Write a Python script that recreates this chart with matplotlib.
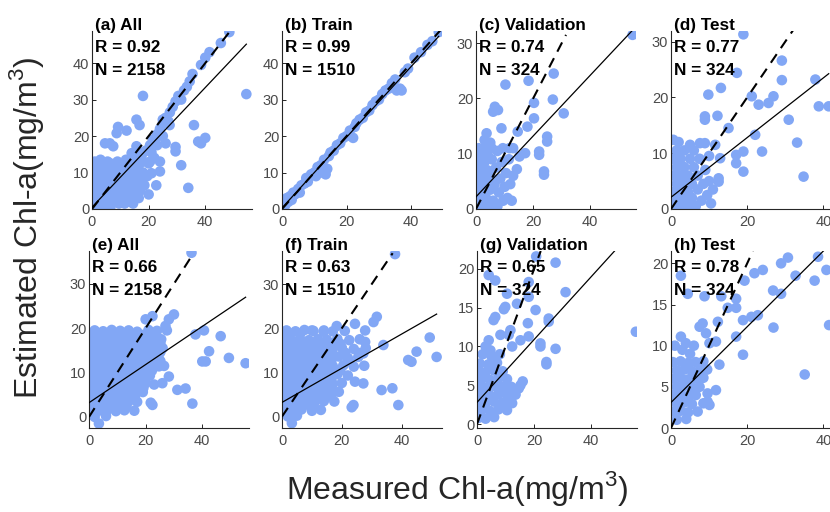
import matplotlib
matplotlib.use("Agg")
import matplotlib.pyplot as plt
import numpy as np

plt.rcParams["font.family"] = ["Liberation Sans", "DejaVu Sans"]
plt.rcParams["mathtext.fontset"] = "custom"
plt.rcParams["mathtext.rm"] = "Liberation Sans"

# ---- data: (measured, estimated) Chl-a pairs per panel ----
pts_a = [(0.5, 0.5), (0.5, 3), (0.5, 6), (0.5, 9), (0.5, 12), (1.5, 1.5), (1.5, 4.5), (1.5, 7.5), (1.5, 10.5),
         (2.5, 0.5), (2.5, 3), (2.5, 6), (2.5, 9), (2.5, 12.5), (3.5, 2), (3.5, 5), (3.5, 8), (3.5, 11),
         (4.5, 0.5), (4.5, 3.5), (4.5, 6.5), (4.5, 9.5), (4.5, 12), (5.5, 2), (5.5, 5), (5.5, 8), (5.5, 11),
         (6.5, 0.5), (6.5, 3.5), (6.5, 6.5), (6.5, 9.5), (6.5, 12.5), (7.5, 2), (7.5, 5), (7.5, 8), (7.5, 11),
         (8.5, 3.5), (8.5, 6.5), (8.5, 9.5), (8.5, 12), (9.5, 1.5), (9.5, 5), (9.5, 8), (9.5, 11),
         (10.5, 3), (10.5, 6.5), (10.5, 10), (11.5, 1.5), (11.5, 5), (11.5, 8.5), (11.5, 12),
         (12.5, 3.5), (12.5, 7), (12.5, 10.5), (13.5, 2), (13.5, 5.5), (13.5, 9), (13.5, 12.5),
         (14.5, 1.5), (14.5, 7.5), (14.5, 11), (15.5, 4), (15.5, 10), (15.5, 13.5), (16.5, 3), (16.5, 8),
         (16.5, 12), (17, 5), (17.5, 14.5), (18, 10), (18.5, 6.5), (19, 16), (20, 12.5), (20.5, 17.5),
         (21.5, 19), (22, 14), (23, 20.5), (24, 22), (25, 23.5), (26, 25), (27, 24), (27.5, 26.5),
         (28.5, 28), (29.5, 29.5), (30.5, 31), (31.5, 30), (32.5, 32.5), (33.5, 33.5), (34.5, 35),
         (35.5, 37), (38.5, 39.5), (40, 41.5), (41.5, 43), (45.5, 45.5), (48.5, 48.5),
         (18, 31), (54.5, 31.5), (36, 23), (37.5, 18.5), (40, 19.5), (38.5, 18), (29.5, 17), (29.5, 15.8),
         (31.5, 12), (34, 5.8), (25, 20), (26, 18), (24, 13), (24, 10.3), (20.5, 13), (21, 9.8),
         (22.7, 6.5), (15.7, 24.5), (16.8, 23), (9.2, 22.5), (8.7, 20.8), (12.2, 21.5), (4.6, 18),
         (6.3, 18), (7.5, 17.2), (15.7, 17.2), (16.8, 15.3), (14, 15.3), (20.5, 17), (22.7, 19.5),
         (27.4, 23), (25, 24.5),
         (1, 13), (3, 13.5), (5.5, 13), (2, 4.5), (4, 10.5), (7, 10), (9, 13), (10, 2.5), (12, 13.5),
         (14, 10), (16, 6), (18, 13), (19.5, 9), (21, 15.5), (23, 17.5), (20, 4)]

pts_b = [(0.3, 0.5), (0.5, 2), (1, 1), (1.5, 3), (2, 2), (2.5, 3.5), (3, 2.5), (3.5, 4.5), (4, 4),
         (5, 5.5), (5.5, 4.5), (6, 6.5), (7, 7), (7.5, 8.5), (8, 7.5), (9, 9.5), (10, 10), (10.5, 9),
         (11, 11.5), (12, 12), (12.5, 10), (13, 13.5), (13.5, 9.5), (14, 11), (14.5, 14.5), (15, 15.5),
         (16, 16), (17, 17.5), (18, 18), (19, 19.5), (20, 20), (21, 21.5), (22, 19.5), (22.5, 22.5),
         (23, 23.5), (24, 24.5), (25, 25), (26, 26.5), (27, 27), (28, 28.5), (29, 29.5), (30, 30),
         (31, 31.5), (32, 32.5), (33, 33), (34, 34.5), (35, 35.5), (35.5, 32.5), (36.5, 33), (37, 32.5),
         (38, 37.5), (39, 38.5), (41, 41.5), (43, 43), (45, 45), (46.5, 46), (48.5, 48.5)]

pts_c = [(54.8, 31.5), (27.2, 24.5), (18.4, 23.2), (10.3, 22.5), (20.3, 19.2), (26.9, 19.8), (30.7, 17.3),
         (20.3, 16.4), (6.6, 18.5), (7.7, 17.9), (6, 17.6), (18, 14.9), (14.6, 14), (8.9, 14.6),
         (3.7, 13.7), (24.9, 13.1), (24.9, 12.2), (22.1, 10.4), (22.1, 9.8), (17.2, 10.1), (11.7, 11),
         (9.4, 11), (15.2, 9.5), (23.8, 6.8), (23.8, 6.2), (14.3, 7.2),
         (0.5, 0.5), (0.5, 3), (0.5, 6), (0.5, 9), (1, 11), (1.5, 1.5), (1.5, 4.5), (1.5, 7.5), (2, 10),
         (2.5, 0.5), (2.5, 3), (2.5, 6), (3, 8.5), (3, 11), (3.5, 2), (3.5, 4.5), (4, 7), (4, 10),
         (4.5, 0.5), (5, 3.5), (5, 6), (5.5, 9), (5.5, 11), (6, 1.5), (6.5, 4.5), (7, 7.5), (7.5, 10.5),
         (7.5, 0.5), (8, 3), (8.5, 5.5), (9, 8.5), (9.5, 1.5), (10, 4), (10.5, 6.5), (11, 2), (11.5, 9),
         (12, 4.5), (12.5, 1.5), (13, 11), (13, 6), (3, 12.5), (5, 12)]

pts_d = [(19, 31.3), (17.3, 24.4), (29.1, 26.6), (29.1, 23.1), (13.1, 21.7), (9.8, 20.5), (21.2, 20.2),
         (23, 18.7), (25.6, 19), (26.9, 20.2), (8.9, 16.6), (8.9, 16), (12.2, 16.7), (15.1, 14.5),
         (30.9, 16), (22.1, 13.3), (37.9, 23.2), (38.8, 18.4), (41.4, 18.4), (33.1, 11.9), (34.8, 5.8),
         (23.9, 10.3), (19, 10.3), (19, 6.7), (17.1, 9.7), (17.1, 8.2), (11.6, 11.5), (12.9, 9.1),
         (12.5, 5.5), (12.5, 4.9), (0.6, 12.4), (7.6, 11.8), (8.9, 11.8),
         (0.5, 0.5), (0.5, 3), (0.5, 6), (0.5, 9), (1.5, 1.5), (1.5, 4.5), (1.5, 7.5), (1.5, 10.5),
         (2.5, 0.5), (2.5, 3), (2.5, 6), (2.5, 9), (3.5, 2), (3.5, 4.5), (3.5, 7.5), (3.5, 10.5),
         (4.5, 0.5), (4.5, 3), (4.5, 6), (5, 9), (5.5, 2), (5.5, 4.5), (6, 7.5), (6, 10.5), (6.5, 0.5),
         (7, 3.5), (7, 6), (7.5, 9), (8, 1.5), (8.5, 4.5), (9, 7), (9.5, 2.5), (10, 5), (10, 9.5),
         (10.5, 1), (11, 3.5), (5, 11.5), (2, 12)]

pts_e = [(36.2, 37), (55.3, 12.1), (49.4, 13.3), (46.5, 18.2), (42.4, 14.8), (40, 12.5), (41.2, 12.5),
         (40.6, 19.5), (37.6, 18.6), (34.1, 6.4), (31.2, 6.1), (36.5, 3), (30, 23.1), (28.2, 22),
         (27, 20.5), (24.7, 17.4), (20, 22), (22.4, 22.7), (25.9, 7.6), (22.4, 2.7), (21.8, 3.2),
         (3.5, -1.5), (28.2, 9.1), (24.7, 11.4),
         (2, 19.5), (5, 19.3), (8, 19.6), (11, 19.4), (14, 19.5), (17, 19.2), (21, 19.6), (24, 19.4), (27.5, 19.5),
         (1.2, 18.5), (4.2, 18.4), (7.2, 18.6), (10.2, 18.5), (13.2, 18.4), (16.2, 18.6), (19.2, 18.5), (22.5, 18.4),
         (0.5, 17.5), (3.5, 17.3), (6.5, 17.6), (9.5, 17.4), (12.5, 17.5), (15.5, 17.3), (18.5, 17.6), (22, 17.4), (25.5, 17.5),
         (1.2, 16.5), (4.2, 16.4), (7.2, 16.6), (10.2, 16.5), (13.2, 16.4), (16.2, 16.6), (19.2, 16.5), (22.2, 16.4), (25.2, 16.6),
         (2, 15.5), (5, 15.4), (8, 15.6), (11, 15.3), (14, 15.5), (17, 15.4), (20, 15.6), (23, 15.3), (26, 15.5),
         (1.2, 14.5), (4.2, 14.4), (7.2, 14.6), (10.2, 14.5), (13.2, 14.4), (16.2, 14.6), (19.2, 14.5), (22.2, 14.4), (25.2, 14.6),
         (0.5, 13.5), (3.5, 13.4), (6.5, 13.6), (9.5, 13.3), (12.5, 13.5), (15.5, 13.4), (18.5, 13.6), (21.5, 13.3), (24.5, 13.5),
         (1.2, 12.5), (4.2, 12.4), (7.2, 12.6), (10.2, 12.5), (13.2, 12.4), (16.2, 12.6), (19.2, 12.5), (22.2, 12.4), (25.2, 12.6),
         (2, 11.5), (5, 11.4), (8, 11.6), (11, 11.3), (14, 11.5), (17, 11.4), (20, 11.6), (23, 11.3), (26.5, 11.5),
         (1.2, 10.5), (4.2, 10.4), (7.2, 10.6), (10.2, 10.5), (13.2, 10.4), (16.2, 10.6), (19.2, 10.5), (22.2, 10.4),
         (0.5, 9.5), (3.5, 9.4), (6.5, 9.6), (9.5, 9.3), (12.5, 9.5), (15.5, 9.4), (18.5, 9.6), (21.5, 9.3),
         (1.2, 8.5), (4.2, 8.4), (7.2, 8.6), (10.2, 8.5), (13.2, 8.4), (16.2, 8.6), (19.2, 8.5),
         (2, 7.5), (5, 7.4), (8, 7.6), (11, 7.3), (14, 7.5), (17, 7.4), (20, 7.6), (23, 7.3),
         (1.2, 6.5), (4.2, 6.4), (7.2, 6.6), (10.2, 6.5), (13.2, 6.4), (16.2, 6.6), (19.2, 6.5),
         (0.5, 5.5), (3.5, 5.4), (6.5, 5.6), (9.5, 5.3), (12.5, 5.5), (15.5, 5.4), (19, 5.6),
         (1.2, 4.5), (4.2, 4.4), (7.2, 4.6), (10.2, 4.5), (13.2, 4.4), (16.2, 4.6),
         (2, 3.5), (5, 3.4), (8, 3.6), (11, 3.3), (14, 3.5), (17, 3.4),
         (1.2, 2.5), (4.2, 2.4), (7.2, 2.6), (10.2, 2.5), (13.2, 2.4),
         (0.5, 1.5), (3.5, 1.4), (6.5, 1.6), (9.5, 1.3), (12.5, 1.5), (16, 1.4),
         (2, 0), (6, 0.2)]

pts_f = [(37.8, 36.8), (51.7, 13.5), (49.4, 17.9), (45, 14.7), (42.2, 12.8), (43.3, 12.4), (31.7, 22.6),
         (30.6, 21.4), (27.8, 19.5), (24.4, 21), (18.3, 20.5), (33.9, 16.2), (27.8, 16.9), (27.2, 14.3),
         (33.3, 6), (36.9, 6.4), (38.9, 2.6), (27.2, 7.5), (24.4, 7.9), (23.9, 2.6), (23.3, 2.1),
         (2.2, 18.8), (6.1, 18.8), (10, 19.5), (13.9, 19.2), (3.3, -1.5),
         (1.5, 19.5), (4.5, 19.3), (7.5, 19.6), (10.5, 19.4), (14, 19.5), (17, 19.3), (21, 19.4),
         (0.5, 17.5), (3, 17.4), (6, 17.6), (9, 17.3), (12, 17.5), (15, 17.4), (18.5, 17.6), (22.5, 17.3), (26, 17.5),
         (1.5, 16.5), (4.5, 16.4), (7.5, 16.6), (10.5, 16.5), (13.5, 16.4), (16.5, 16.6), (19.5, 16.5),
         (2, 15.5), (5, 15.4), (8, 15.6), (11, 15.3), (14, 15.5), (17, 15.4), (20, 15.6), (24, 15.3), (28, 15.5),
         (1.5, 14.5), (4.5, 14.4), (7.5, 14.6), (10.5, 14.5), (13.5, 14.4), (16.5, 14.6), (21, 14.5), (26, 14.4),
         (0.5, 13.5), (3.5, 13.4), (6.5, 13.6), (9.5, 13.3), (12.5, 13.5), (15.5, 13.4), (19, 13.6), (22, 13.3), (25.5, 13.5),
         (1.5, 12.5), (4.5, 12.4), (7.5, 12.6), (10.5, 12.5), (13.5, 12.4), (16.5, 12.6), (22.5, 12.5),
         (2, 11.5), (5, 11.4), (8, 11.6), (11, 11.3), (14, 11.5), (17, 11.4), (20.5, 11.6), (24, 11.3), (27.5, 11.5),
         (1.5, 10.5), (4.5, 10.4), (7.5, 10.6), (10.5, 10.5), (13.5, 10.4), (16.5, 10.6), (19.5, 10.5),
         (0.5, 9.5), (3.5, 9.4), (6.5, 9.6), (9.5, 9.3), (12.5, 9.5), (15.5, 9.4), (18.5, 9.6), (22, 9.3),
         (1.5, 8.5), (4.5, 8.4), (7.5, 8.6), (10.5, 8.5), (13.5, 8.4), (16.5, 8.6),
         (2, 7.5), (5, 7.4), (8, 7.6), (11, 7.3), (14, 7.5), (17, 7.4), (20, 7.6),
         (1.5, 6.5), (4.5, 6.4), (7.5, 6.6), (10.5, 6.5), (13.5, 6.4), (16.5, 6.6),
         (0.5, 5.5), (3.5, 5.4), (6.5, 5.6), (9.5, 5.3), (12.5, 5.5), (16, 5.4), (19, 5.6),
         (1.5, 4.5), (4.5, 4.4), (7.5, 4.6), (10.5, 4.5), (13.5, 4.4), (16.5, 4.6),
         (2, 3.5), (5, 3.4), (8, 3.6), (11, 3.3), (14, 3.5), (17.5, 3.4),
         (1.5, 2.5), (4.5, 2.4), (7.5, 2.6), (10.5, 2.5),
         (0.5, 1.5), (3.5, 1.4), (6.5, 1.6), (10, 1.3), (13, 1.5),
         (2, 0), (5, 0.2)]

pts_g = [(55.6, 11.9), (20.7, 21.6), (27.5, 20.8), (31, 17), (4.1, 19.2), (6.4, 18.5), (10.5, 16.8),
         (18.1, 18.3), (18.1, 16.4), (20.5, 14.7), (14, 15.5), (9.9, 15.1), (9.4, 14.8), (6.4, 13.8),
         (5.8, 13.4), (25.1, 13.6), (25.1, 13.2), (17.8, 13), (18.1, 11.3), (11.7, 12.1), (11.1, 11.5),
         (8.2, 11.5), (22.2, 10.4), (22.2, 10), (27.5, 9.7), (24.3, 8), (24.3, 7.7), (15.2, 10.8),
         (12.3, 10), (4.1, 10.8), (4.7, 9.5), (15.2, 5), (14.6, 4.6), (11.7, 4.2), (12.3, 2.7),
         (1, 7.8), (4, 7.7), (7, 7.9),
         (0.5, 6.8), (3, 6.7), (6, 6.9), (9, 6.8),
         (1.5, 5.8), (4.5, 5.7), (7.5, 5.9), (10.5, 5.8),
         (0.5, 4.8), (3, 4.7), (6, 4.9), (9, 4.8), (12, 4.8),
         (1.5, 3.8), (4.5, 3.7), (7.5, 3.9), (10.5, 3.8), (13.5, 3.8),
         (0.5, 2.8), (3, 2.7), (6, 2.9), (9, 2.8), (12, 2.8),
         (1.5, 1.8), (4.5, 1.7), (7.5, 1.9), (10.5, 1.8),
         (0.5, 0.8), (3, 0.7), (6, 0.9),
         (2, 9), (3, 10), (5, 8.8), (8, 9), (16, 5.5)]

pts_h = [(2.6, 18.5), (4.4, 16.3), (8.8, 16), (13.2, 16), (14.9, 14.6), (17.1, 14.6), (17.1, 15.7),
         (19.3, 17.9), (21.9, 18.8), (24.1, 19.2), (26.8, 16.7), (28.9, 20), (30.7, 20.7), (28.9, 16.3),
         (32.7, 18.5), (37.7, 17.9), (38.6, 20.8), (40.8, 19.2), (41.5, 12.5), (35.1, 6.5), (26.9, 12.2),
         (18.9, 13.1), (21.1, 13.5), (22.8, 13.7), (17.1, 11.1), (18.9, 8.9), (12.3, 12.9), (8.3, 12.7),
         (7.5, 12.3), (9.2, 11.5), (10.1, 10.3), (11.8, 10.5), (12.7, 7.7), (2.6, 11.1), (3.9, 10.3),
         (11.8, 4.6), (9.6, 4.2), (9.6, 3.2), (10.1, 2.8),
         (0.5, 8), (2.5, 8.1), (4.5, 7.9), (6.5, 8), (8.5, 8.1),
         (1.5, 7), (3.5, 7.1), (5.5, 6.9), (7.5, 7), (9.5, 7.1),
         (0.5, 6), (2.5, 6.1), (4.5, 5.9), (6.5, 6), (8.5, 6.1),
         (1.5, 5), (3.5, 5.1), (5.5, 4.9), (7.5, 5),
         (0.5, 4), (2.5, 4.1), (4.5, 3.9), (6.5, 4),
         (1.5, 3), (3.5, 3.1), (5.5, 2.9), (8.5, 3),
         (0.5, 2), (2.5, 2.1), (4.5, 1.9), (7, 2),
         (1.5, 1), (4, 1.1),
         (3, 9.5), (5, 9), (1, 10), (6, 10)]

titles = ["(a) All", "(b) Train", "(c) Validation", "(d) Test",
          "(e) All", "(f) Train", "(g) Validation", "(h) Test"]
r_vals = [0.92, 0.99, 0.74, 0.77, 0.66, 0.63, 0.65, 0.78]
n_vals = [2158, 1510, 324, 324, 2158, 1510, 324, 324]

# regression fit (slope, intercept) and the end of the 1:1 line
fit_slope = [0.82, 0.97, 0.55, 0.535, 0.43, 0.387, 0.405, 0.46]
fit_icpt = [0.5, 0.3, 2.2, 2.1, 3.2, 3.2, 2.8, 3.1]
one_to_one_max = [48.5, 49, 31.5, 32, 37, 37, 22.3, 21.5]

x_lims = [(0, 56.5), (0, 49.5), (0, 56), (0, 42), (0, 56.5), (0, 53.5), (0, 56), (0, 42)]
y_lims = [(0, 48.8), (0, 48.8), (0, 32.2), (0, 31.9), (-2.5, 37.4), (-2.6, 37.5), (-0.5, 22.3), (0, 21.5)]
y_ticks = [np.arange(0, 41, 10), np.arange(0, 41, 10), np.arange(0, 31, 10), np.arange(0, 31, 10),
           np.arange(0, 31, 10), np.arange(0, 31, 10), np.arange(0, 21, 5), np.arange(0, 21, 5)]

all_pts = [pts_a, pts_b, pts_c, pts_d, pts_e, pts_f, pts_g, pts_h]

W, H = 830, 512
fig = plt.figure(figsize=(W / 100, H / 100), dpi=100)

lefts_top = [92, 282, 476, 671]
lefts_bot = [89, 282, 477, 671]
ax_w = 160
rows = [(31, 209), (251, 428)]

dot_color = "#82a7f5"
tick_color = "#4a4a4a"

for i in range(8):
    r, c = divmod(i, 4)
    left = (lefts_top if r == 0 else lefts_bot)[c]
    top, bot = rows[r]
    ax = fig.add_axes([left / W, 1 - bot / H, ax_w / W, (bot - top) / H])

    xy = np.array(all_pts[i])
    ax.scatter(xy[:, 0], xy[:, 1], s=58, color=dot_color, edgecolors="none", zorder=2)

    # 1:1 reference line
    m = one_to_one_max[i]
    ax.plot([0, m], [0, m], color="black", lw=1.5, ls=(0, (5, 3.5)), zorder=3)
    # least squares fit
    xf = np.array([0, xy[:, 0].max()])
    ax.plot(xf, fit_slope[i] * xf + fit_icpt[i], color="black", lw=0.9, zorder=3)

    ax.set_xlim(*x_lims[i])
    ax.set_ylim(*y_lims[i])
    ax.set_xticks([0, 20, 40])
    ax.set_yticks(y_ticks[i])
    for s in ("top", "right"):
        ax.spines[s].set_visible(False)
    for s in ("left", "bottom"):
        ax.spines[s].set_color("#262626")
        ax.spines[s].set_linewidth(0.8)
    ax.tick_params(direction="in", length=3, width=0.7, color="#262626",
                   labelsize=10.5, labelcolor=tick_color)
    ax.tick_params(axis="x", pad=4)
    ax.tick_params(axis="y", pad=2)

    lines = [titles[i], f"R = {r_vals[i]:.2f}", f"N = {n_vals[i]}"]
    for k, txt in enumerate(lines):
        ax.annotate(txt, xy=(0, 1), xycoords="axes fraction",
                    xytext=(2.5, 4.3 - 16.2 * k), textcoords="offset points",
                    fontsize=12.3, fontweight="bold", va="center", ha="left", zorder=5)

fig.text(457 / W, 1 - 489 / H, "Measured Chl-a(mg/m$^3$)", fontsize=23,
         ha="center", va="center", color="#262626")
fig.text(27 / W, 1 - 228 / H, "Estimated Chl-a(mg/m$^3$)", fontsize=23,
         ha="center", va="center", rotation=90, color="#262626")

fig.savefig("out.png", dpi=100, facecolor="white")
